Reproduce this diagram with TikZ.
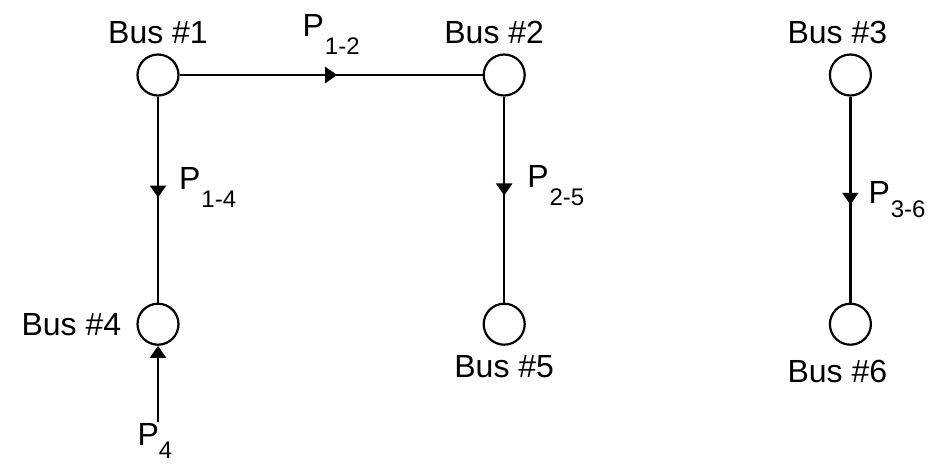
\documentclass[tikz,border=0pt]{standalone}
\usepackage{fontspec}
\setmainfont{Liberation Sans}
\usetikzlibrary{positioning}
\usetikzlibrary{arrows.meta}
\usetikzlibrary{decorations.markings}

\newcommand{\flowlbl}[3][1pt]{P\kern#1\raisebox{-#2}{\fontsize{24}{24}\selectfont #3}}

\begin{document}
\begin{tikzpicture}[
    >={Triangle[length=12pt,width=16pt]},
    node distance=206pt and 303pt,
    every node/.style={font=\fontsize{32}{36}\selectfont, inner sep=2pt},
    bus/.style={draw, circle, line width=2.2pt, minimum size=41pt, inner sep=0pt},
    line/.style={line width=2.2pt},
    flow/.style={line width=2.2pt, decoration={markings, mark=at position #1 with {\arrow{Triangle[length=12pt,width=16pt]}}}, postaction={decorate}},
    flow/.default=0.5
]
\useasboundingbox (0,0) rectangle (935pt,-464pt);
\node[bus] (bus1) at (158pt,-75pt) {};
\node[bus, right=of bus1] (bus2) {};
\node[bus, right=of bus2] (bus3) {};
\node[bus, below=of bus1] (bus4) {};
\node[bus, below=of bus2] (bus5) {};
\node[bus, below=of bus3] (bus6) {};
\coordinate[below=76pt of bus4] (p4in);
% bus names
\node[above=7pt of bus1] (name1) {Bus \#1};
\node[above=7pt of bus2, xshift=-10pt] (name2) {Bus \#2};
\node[above=7pt of bus3, xshift=-13pt] (name3) {Bus \#3};
\node[left=13pt of bus4] (name4) {Bus \#4};
\node[below=7pt of bus5] (name5) {Bus \#5};
\node[below=12pt of bus6, xshift=-13pt] (name6) {Bus \#6};
% power flows
\draw[flow=0.52] (bus1) -- node[above=17pt] (p12) {\flowlbl{18pt}{1-2}} (bus2);
\draw[flow=0.49] (bus1) -- node[right=18pt, yshift=12pt] (p14) {\flowlbl{18pt}{1-4}} (bus4);
\draw[flow=0.48] (bus2) -- node[right=20pt, yshift=14pt] (p25) {\flowlbl{18pt}{2-5}} (bus5);
\draw[flow=0.525] (bus3) -- node[right=15pt] (p36) {\flowlbl{14pt}{3-6}} (bus6);
\draw[line, ->] (p4in) -- (bus4);
\node[below=1pt of p4in, xshift=-3pt, inner sep=0pt] (p4) {\flowlbl[0pt]{13pt}{4}};
\end{tikzpicture}
\end{document}
